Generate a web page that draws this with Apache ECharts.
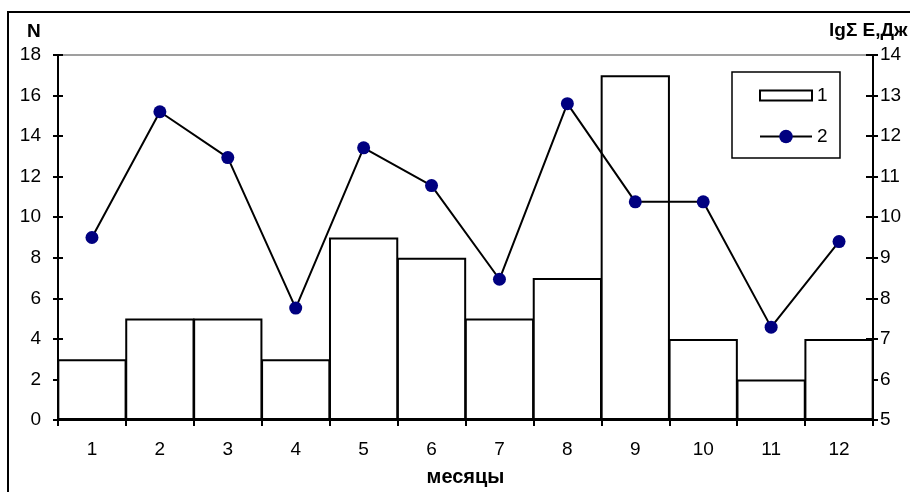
<!DOCTYPE html>
<html>
<head>
<meta charset="utf-8">
<script src="https://cdn.jsdelivr.net/npm/echarts@6/dist/echarts.min.js"></script>
<style>
  html, body {margin: 0; padding: 0; background: #ffffff;}
  #chart {width: 910px; height: 492px;}
</style>
</head>
<body>
<div id="chart"></div>
<script>
// месяцы
const months = ['1', '2', '3', '4', '5', '6', '7', '8', '9', '10', '11', '12'];
// 1 - N (bars, left axis)
const countN = [3, 5, 5, 3, 9, 8, 5, 7, 17, 4, 2, 4];
// 2 - lgΣE (line, right axis)
const lgEnergy = [9.5, 12.6, 11.47, 7.76, 11.71, 10.78, 8.47, 12.8, 10.38, 10.38, 7.29, 9.4];
// axis ranges
const leftMin = 0, leftMax = 18, leftStep = 2;
const rightMin = 5, rightMax = 14, rightStep = 1;

const font = 'Liberation Sans, Arial, sans-serif';
const fs = 19;

let option = {
  animation: false,
  backgroundColor: '#ffffff',
  grid: {left: 58, right: 37, top: 55, bottom: 71, containLabel: false},
  graphic: [
    {
      type: 'rect',
      shape: {x: 8, y: 12, width: 1000, height: 1000},
      style: {fill: 'none', stroke: '#000000', lineWidth: 2},
      z: 100
    },
    {
      // legend frame
      type: 'rect',
      shape: {x: 732, y: 72, width: 108, height: 86},
      style: {fill: '#ffffff', stroke: '#000000', lineWidth: 1.5},
      z: 50
    },
    {
      type: 'text', left: 27, top: 22,
      style: {text: 'N', font: 'bold 19px ' + font, fill: '#000000'}
    },
    {
      type: 'text', left: 829, top: 21,
      style: {text: 'lgΣ Е,Дж', font: 'bold 19px ' + font, fill: '#000000'}
    }
  ],
  legend: [
    {
      left: 754, top: 81,
      itemWidth: 52,
      itemHeight: 10,
      itemGap: 10,
      textStyle: {fontSize: fs, fontFamily: font, color: '#000000'},
      data: [{name: '1', icon: 'rect'}],
      z: 60
    },
    {
      left: 754, top: 122,
      itemWidth: 52,
      itemHeight: 17,
      itemGap: 10,
      textStyle: {fontSize: fs, fontFamily: font, color: '#000000'},
      data: [{name: '2'}],
      z: 60
    }
  ],
  xAxis: [
    {
      type: 'category',
      data: months,
      boundaryGap: true,
      axisLine: {lineStyle: {color: '#000000', width: 2}},
      axisTick: {show: true, length: 6, lineStyle: {color: '#000000', width: 2}},
      axisLabel: {margin: 20, fontSize: fs, fontFamily: font, color: '#000000'},
      name: 'месяцы',
      nameLocation: 'middle',
      nameGap: 47,
      nameTextStyle: {fontSize: 20, fontWeight: 'bold', fontFamily: font, color: '#000000'}
    },
    {
      type: 'category',
      data: months,
      position: 'top',
      axisLine: {onZero: false, lineStyle: {color: '#808080', width: 1.5}},
      axisTick: {show: false},
      axisLabel: {show: false}
    }
  ],
  yAxis: [
    {
      type: 'value',
      min: leftMin, max: leftMax, interval: leftStep,
      position: 'left',
      axisLine: {show: true, lineStyle: {color: '#000000', width: 2}},
      axisTick: {show: true, length: 5, lineStyle: {color: '#000000', width: 2}},
      axisLabel: {margin: 17, fontSize: fs, fontFamily: font, color: '#000000'},
      splitLine: {show: false}
    },
    {
      type: 'value',
      min: rightMin, max: rightMax, interval: rightStep,
      position: 'right',
      axisLine: {show: true, lineStyle: {color: '#000000', width: 2}},
      axisTick: {show: true, length: 5, lineStyle: {color: '#000000', width: 2}},
      axisLabel: {margin: 7, fontSize: fs, fontFamily: font, color: '#000000'},
      splitLine: {show: false}
    },
    {
      // inner half of the crossing ticks, left
      type: 'value',
      min: leftMin, max: leftMax, interval: leftStep,
      position: 'left',
      axisLine: {show: false},
      axisTick: {show: true, inside: true, length: 5, lineStyle: {color: '#000000', width: 2}},
      axisLabel: {show: false},
      splitLine: {show: false}
    },
    {
      // inner half of the crossing ticks, right
      type: 'value',
      min: rightMin, max: rightMax, interval: rightStep,
      position: 'right',
      axisLine: {show: false},
      axisTick: {show: true, inside: true, length: 7, lineStyle: {color: '#000000', width: 2}},
      axisLabel: {show: false},
      splitLine: {show: false}
    }
  ],
  series: [
    {
      name: '1',
      type: 'bar',
      data: countN,
      xAxisIndex: 0,
      yAxisIndex: 0,
      barWidth: '102%',
      itemStyle: {color: '#ffffff', borderColor: '#000000', borderWidth: 2},
      z: 2
    },
    {
      name: '2',
      type: 'line',
      data: lgEnergy,
      xAxisIndex: 0,
      yAxisIndex: 1,
      symbol: 'circle',
      symbolSize: 13,
      lineStyle: {color: '#000000', width: 2},
      itemStyle: {color: '#000080', borderWidth: 0},
      z: 5
    }
  ]
};

let chart = echarts.init(document.getElementById('chart'), null, {width: 910, height: 492});
chart.setOption(option);
</script>
</body>
</html>
